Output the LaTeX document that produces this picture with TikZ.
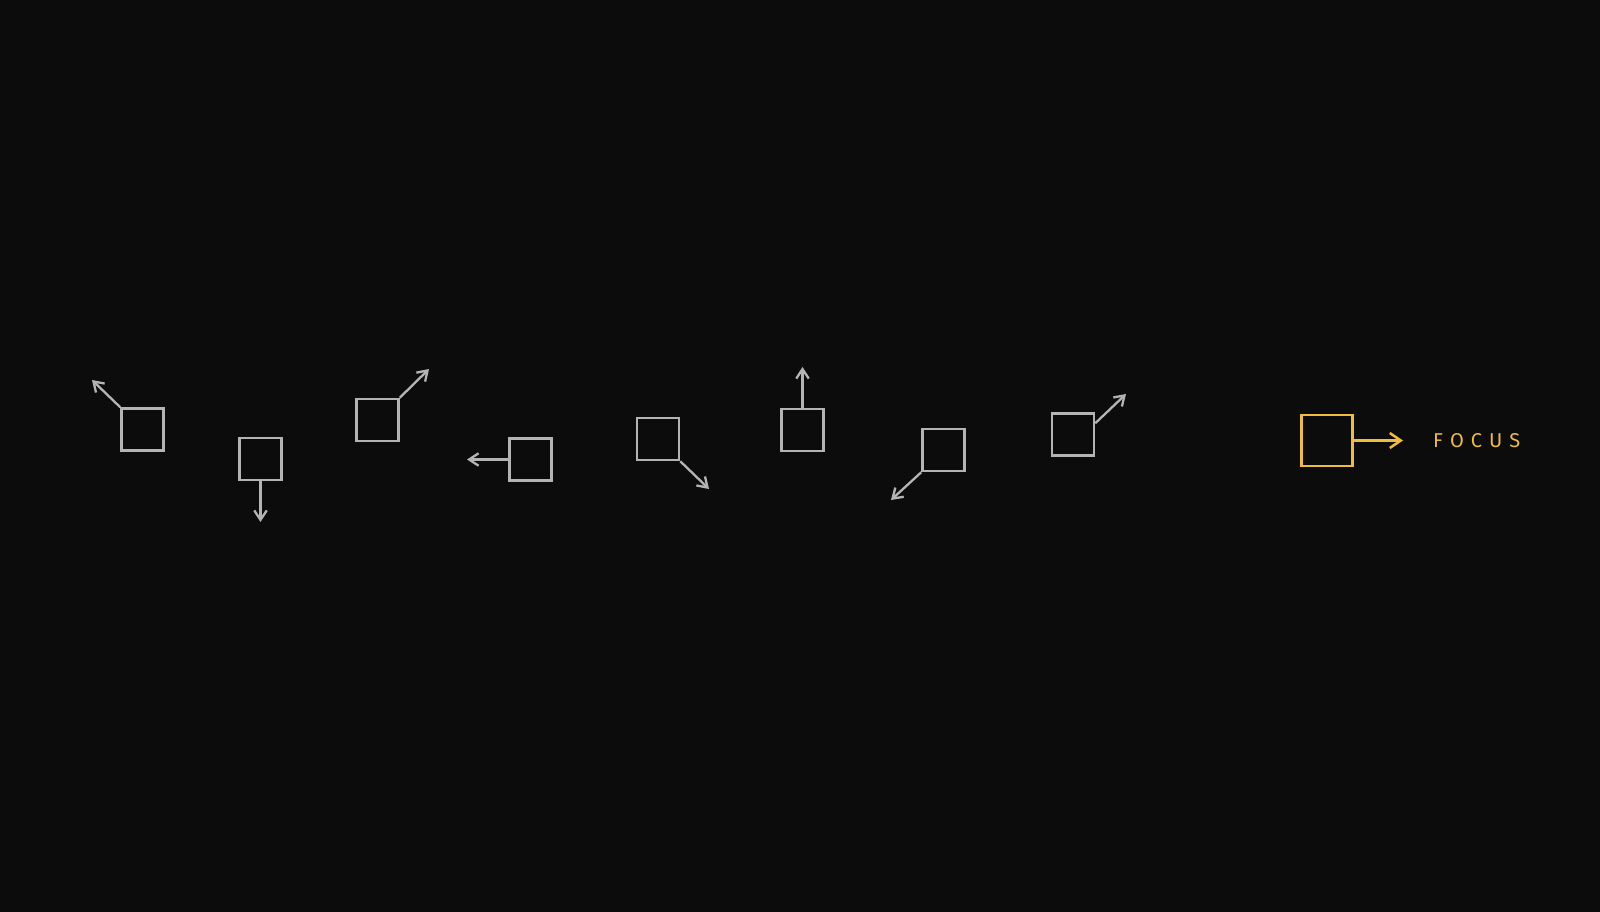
\documentclass[tikz,border=0pt]{standalone}
\usepackage{fontspec}
\setmainfont{Fira Sans}
\usetikzlibrary{arrows.meta}
\definecolor{bg}{HTML}{0C0C0C}
\definecolor{gr}{HTML}{B4B4B4}
\definecolor{gold}{HTML}{F0BC3C}
\tikzset{
  box/.style={draw=gr, line width=2.5pt, minimum size=42pt, inner sep=0pt, rectangle},
  fbox/.style={draw=gold, line width=2.6pt, minimum size=51pt, inner sep=0pt, rectangle},
  vec/.style={draw=gr, line width=2.3pt, -{Straight Barb[length=9.5pt,width=12.5pt,line width=2.3pt]}},
  fvec/.style={draw=gold, line width=2.5pt, -{Straight Barb[length=11pt,width=15pt,line width=2.5pt]}},
  lbl/.style={text=gold, font=\fontsize{20}{24}\selectfont, inner sep=0pt, anchor=base west}
}
\begin{document}
\begin{tikzpicture}[x=1pt,y=-1pt]
\fill[bg] (0,0) rectangle (1600,912);
\useasboundingbox (0,0) rectangle (1600,912);
\node[box] (b1) at (142.5,429.5) {};
\node[box] (b2) at (260.5,459) {};
\node[box] (b3) at (377.5,420) {};
\node[box] (b4) at (530.5,459.5) {};
\node[box] (b5) at (658,439) {};
\node[box] (b6) at (802.5,430) {};
\node[box] (b7) at (943.5,450) {};
\node[box] (b8) at (1073,434.5) {};
\node[fbox] (f) at (1327,440.5) {};
\coordinate (e1) at (92,380);
\coordinate (e2) at (260.5,522);
\coordinate (e3) at (429,369);
\coordinate (e4) at (467,459.5);
\coordinate (e5) at (709,489);
\coordinate (e6) at (802.5,367);
\coordinate (e7) at (891,500);
\coordinate (e8) at (1126,394);
\coordinate (ef) at (1403,440.5);
\draw[vec] (b1.north west) -- (e1);
\draw[vec] (b2.south) -- (e2);
\draw[vec] (b3.north east) -- (e3);
\draw[vec] (b4.west) -- (e4);
\draw[vec] (b5.south east) -- (e5);
\draw[vec] (b6.north) -- (e6);
\draw[vec] (b7.south west) -- (e7);
\draw[vec] ([yshift=-11pt]b8.north east) -- (e8);
\draw[fvec] (f.east) -- (ef);
\node[lbl] (t) at (1433,447.7) {F\hspace{7pt}O\hspace{7pt}C\hspace{7pt}U\hspace{7pt}S};
\end{tikzpicture}
\end{document}
